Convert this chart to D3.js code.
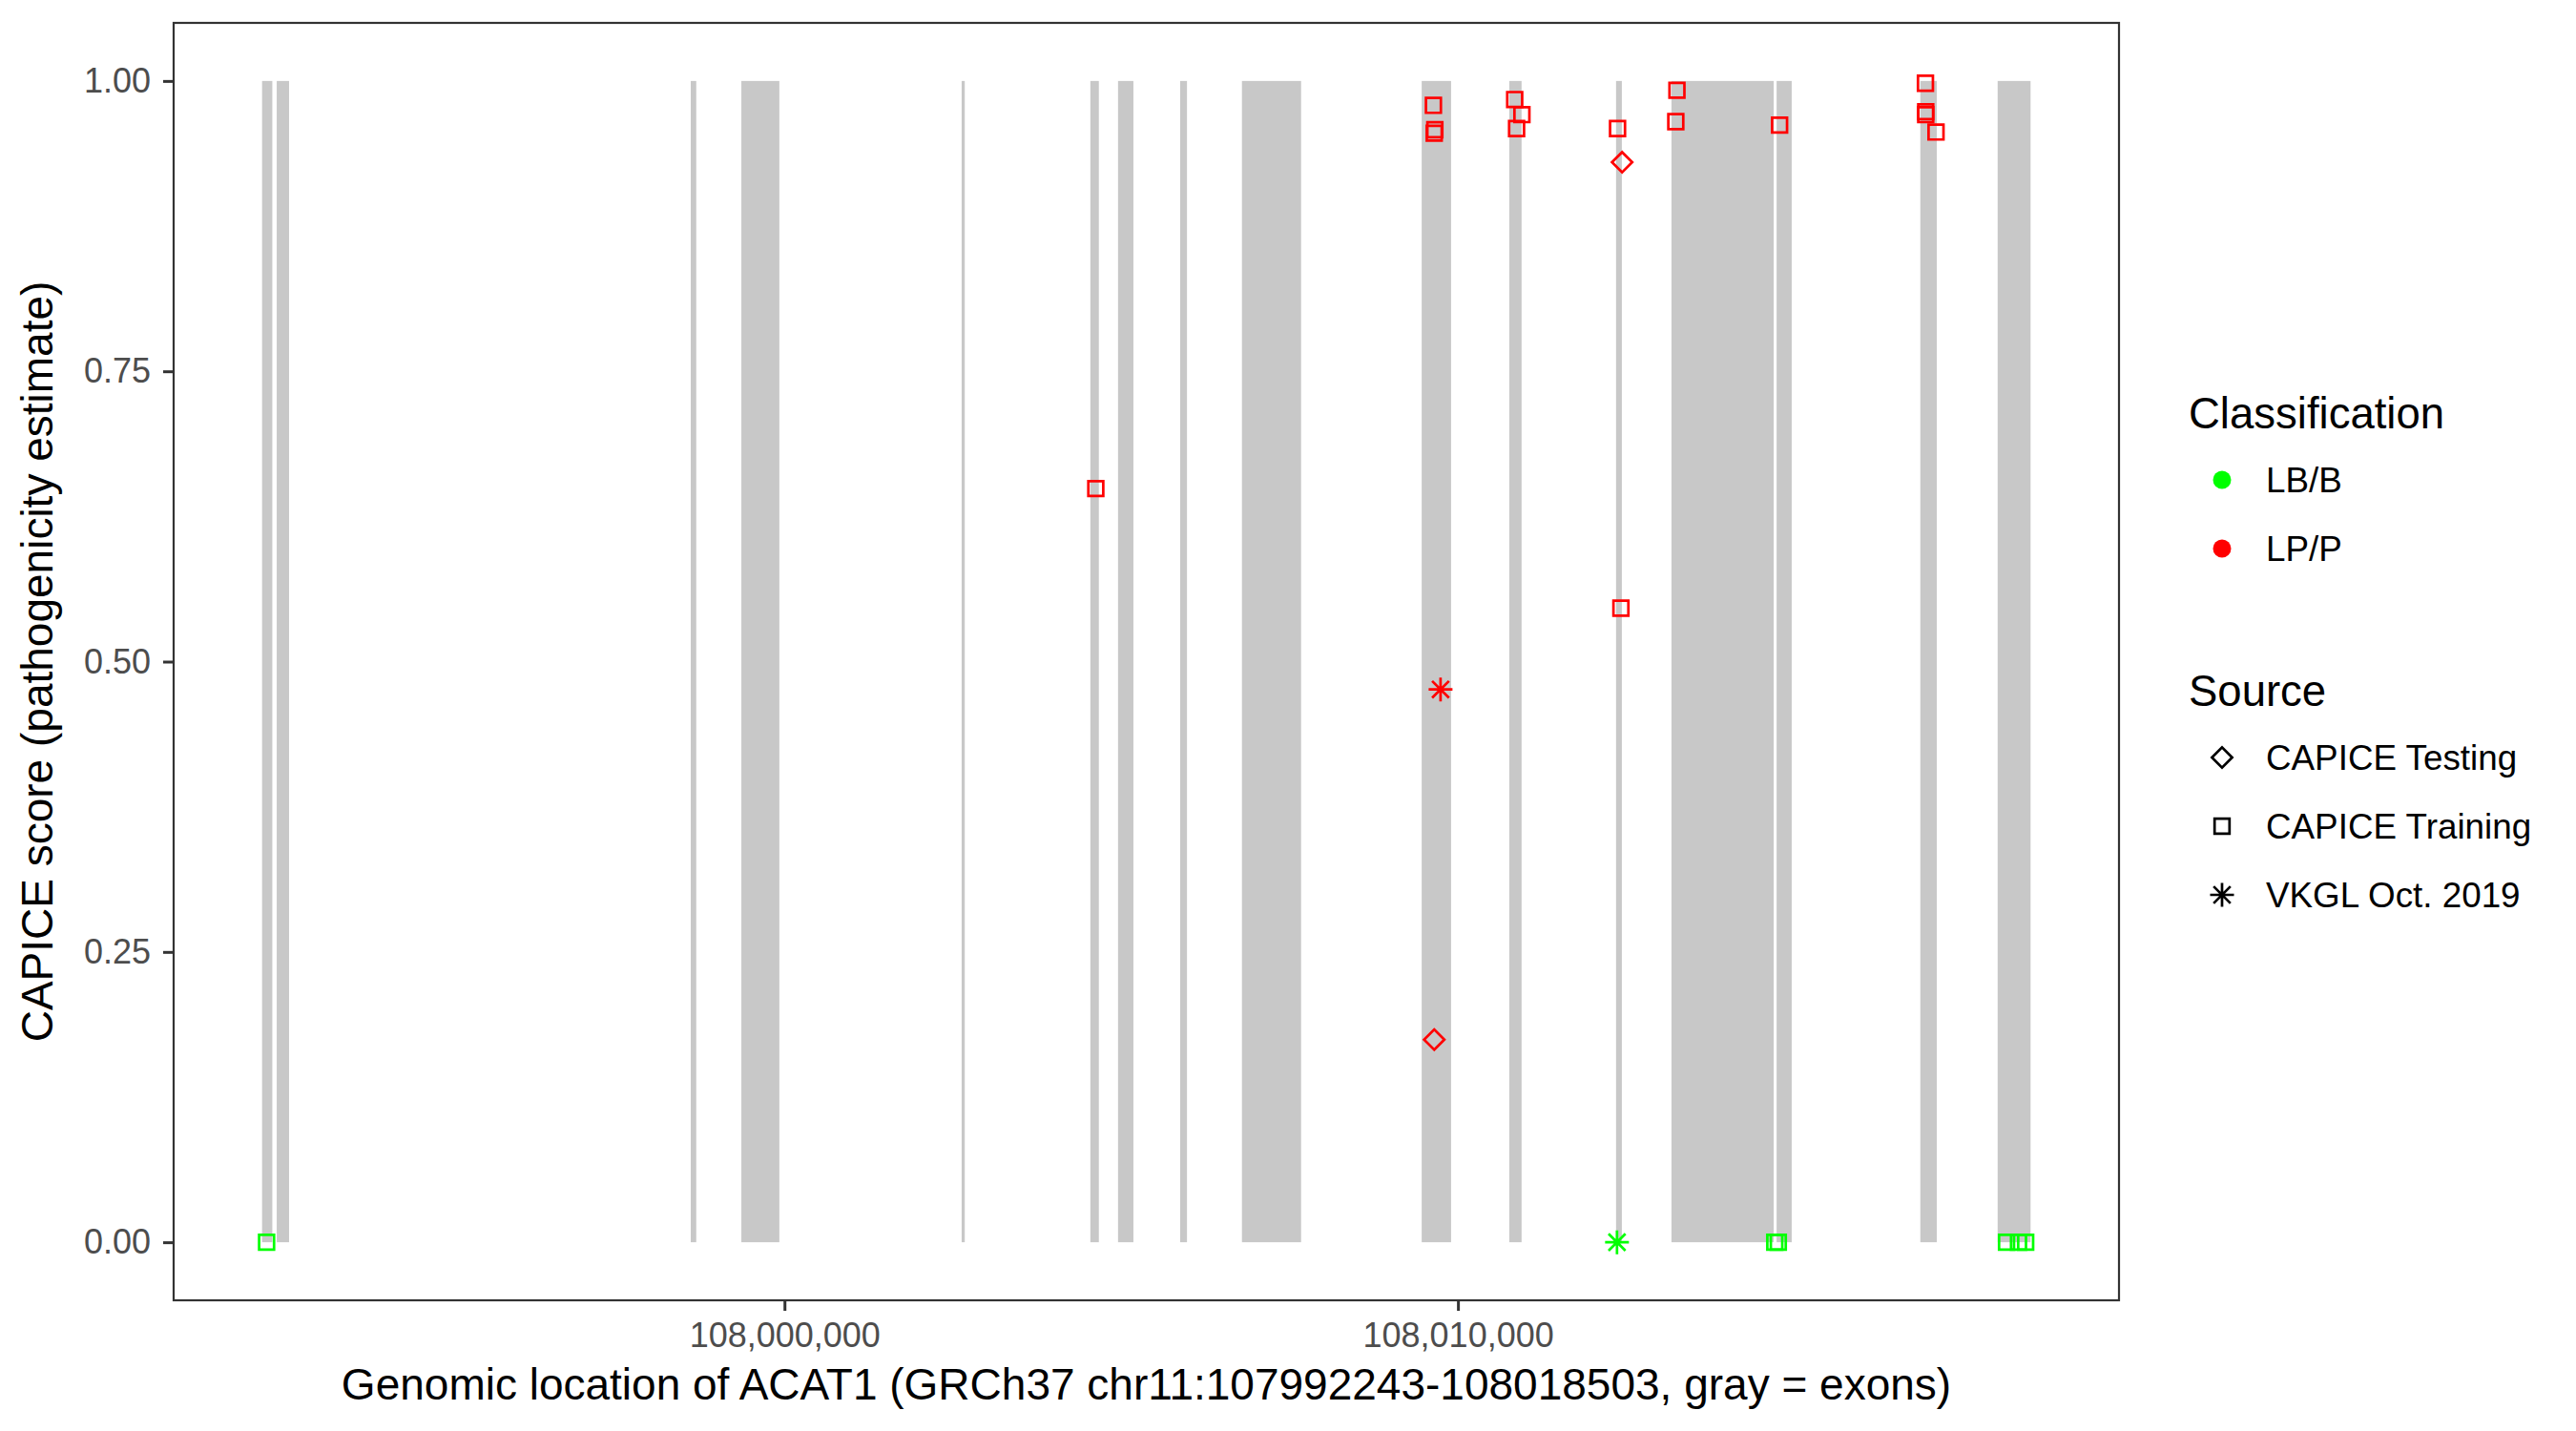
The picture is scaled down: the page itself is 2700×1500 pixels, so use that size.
<!DOCTYPE html>
<meta charset="utf-8">
<style>
body { margin: 0; background: #fff; }
text { font-family: "Liberation Sans", Arial, Helvetica, sans-serif; }
.tick text { font-size: 36px; fill: #4d4d4d; }
.axis_title { font-size: 46px; fill: #000; }
.legend_title { font-size: 45.5px; fill: #000; }
.legend_text { font-size: 36.8px; fill: #000; }
</style>
<svg width="2700" height="1500"></svg>
<script src="https://d3js.org/d3.v7.min.js"></script>
<script>

// gene span (GRCh37 chr11)
var geneStart = 107992243,
    geneEnd = 108018503;

// exons
var exonStarts = [107992243, 107992461, 107998608, 107999360, 108002631, 108004542, 108004953, 108005875,
                  108006793, 108009462, 108010762, 108012348, 108013171, 108014732, 108016866, 108018014];
var exonEnds   = [107992395, 107992644, 107998690, 107999924, 108002677, 108004668, 108005181, 108005977,
                  108007671, 108009898, 108010945, 108012434, 108014689, 108014956, 108017110, 108018503];

// variants
var variantPos = [
  108004623, 108009636, 108009657, 108009648, 108010843, 108010950, 108010871, 108012370,
  108012420, 108013252, 108013235, 108014776, 108016942, 108016946, 108016946, 108017099,
  108012438, 108009648,
  108009742,
  108012362,
  107992310, 108014705, 108014757, 108018146, 108018324, 108018430
];
var variantScore = [
  0.649, 0.979, 0.958, 0.955, 0.984, 0.971, 0.959, 0.959,
  0.546, 0.992, 0.965, 0.962, 0.998, 0.9735, 0.971, 0.956,
  0.930, 0.1745,
  0.476,
  0,
  0, 0, 0, 0, 0, 0
];
var variantClass = [
  "LP/P", "LP/P", "LP/P", "LP/P", "LP/P", "LP/P", "LP/P", "LP/P",
  "LP/P", "LP/P", "LP/P", "LP/P", "LP/P", "LP/P", "LP/P", "LP/P",
  "LP/P", "LP/P",
  "LP/P",
  "LB/B",
  "LB/B", "LB/B", "LB/B", "LB/B", "LB/B", "LB/B"
];
var variantSource = [
  "CAPICE Training", "CAPICE Training", "CAPICE Training", "CAPICE Training", "CAPICE Training", "CAPICE Training", "CAPICE Training", "CAPICE Training",
  "CAPICE Training", "CAPICE Training", "CAPICE Training", "CAPICE Training", "CAPICE Training", "CAPICE Training", "CAPICE Training", "CAPICE Training",
  "CAPICE Testing", "CAPICE Testing",
  "VKGL Oct. 2019",
  "VKGL Oct. 2019",
  "CAPICE Training", "CAPICE Training", "CAPICE Training", "CAPICE Training", "CAPICE Training", "CAPICE Training"
];

var classNames = ["LB/B", "LP/P"];
var classColors = ["#00ff00", "#ff0000"];
var sourceNames = ["CAPICE Testing", "CAPICE Training", "VKGL Oct. 2019"];

var xTicks = [108000000, 108010000];
var yTicks = [0, 0.25, 0.5, 0.75, 1];

var svg = d3.select("svg"),
    panel = {left: 182, top: 24, right: 2221, bottom: 1363};

var pad = (geneEnd - geneStart) * 0.05;
var x = d3.scaleLinear()
    .domain([geneStart - pad, geneEnd + pad])
    .range([panel.left, panel.right]);

var y = d3.scaleLinear()
    .domain([-0.05, 1.05])
    .range([panel.bottom, panel.top]);

var color = d3.scaleOrdinal().domain(classNames).range(classColors);

// ggplot-like asterisk (shape 8): + and x
var asterisk = {
  draw: function(context, size) {
    var r = Math.sqrt(size) / 2, d = r * Math.SQRT1_2;
    context.moveTo(-r, 0); context.lineTo(r, 0);
    context.moveTo(0, -r); context.lineTo(0, r);
    context.moveTo(-d, -d); context.lineTo(d, d);
    context.moveTo(-d, d); context.lineTo(d, -d);
  }
};

function symbolPath(source) {
  if (source == "CAPICE Training") return d3.symbol().type(d3.symbolSquare).size(245)();
  if (source == "CAPICE Testing") return d3.symbol().type(d3.symbolSquare).size(225)();
  return d3.symbol().type(asterisk).size(625)();
}
function symbolRotate(source) {
  return source == "CAPICE Testing" ? " rotate(45)" : "";
}

// exons
svg.append("g")
  .selectAll("rect")
  .data(exonStarts)
  .enter().append("rect")
    .attr("x", function(d) { return x(d); })
    .attr("width", function(d, i) { return Math.max(1, x(exonEnds[i]) - x(d)); })
    .attr("y", y(1))
    .attr("height", y(0) - y(1))
    .attr("fill", "#c8c8c8");

// variants
var variants = variantPos.map(function(p, i) {
  return {pos: p, score: variantScore[i], cls: variantClass[i], source: variantSource[i]};
});

svg.append("g")
  .selectAll("path")
  .data(variants)
  .enter().append("path")
    .attr("transform", function(d) { return "translate(" + x(d.pos) + "," + y(d.score) + ")" + symbolRotate(d.source); })
    .attr("d", function(d) { return symbolPath(d.source); })
    .attr("fill", "none")
    .attr("stroke", function(d) { return color(d.cls); })
    .attr("stroke-width", 2.7);

// panel border
svg.append("rect")
    .attr("x", panel.left)
    .attr("y", panel.top)
    .attr("width", panel.right - panel.left)
    .attr("height", panel.bottom - panel.top)
    .attr("fill", "none")
    .attr("stroke", "#333333")
    .attr("stroke-width", 2.2);

// axes
var xAxis = svg.append("g")
    .attr("transform", "translate(0," + panel.bottom + ")")
    .call(d3.axisBottom(x).tickValues(xTicks).tickFormat(d3.format(",")).tickSize(11).tickPadding(12));
var yAxis = svg.append("g")
    .attr("transform", "translate(" + panel.left + ",0)")
    .call(d3.axisLeft(y).tickValues(yTicks).tickFormat(d3.format(".2f")).tickSize(11).tickPadding(13));

[xAxis, yAxis].forEach(function(a) {
  a.select(".domain").remove();
  a.selectAll(".tick line").attr("stroke", "#333333").attr("stroke-width", 3);
  a.selectAll(".tick text").attr("font-family", null).attr("font-size", null);
});

svg.append("text")
    .attr("class", "axis_title")
    .attr("x", (panel.left + panel.right) / 2)
    .attr("y", 1467)
    .attr("text-anchor", "middle")
    .text("Genomic location of ACAT1 (GRCh37 chr11:107992243-108018503, gray = exons)");

svg.append("text")
    .attr("class", "axis_title")
    .attr("transform", "translate(55," + (panel.top + panel.bottom) / 2 + ") rotate(-90)")
    .attr("text-anchor", "middle")
    .text("CAPICE score (pathogenicity estimate)");

// legends
var legendX = 2294, keyX = 2329, labelX = 2375;

svg.append("text")
    .attr("class", "legend_title")
    .attr("x", legendX)
    .attr("y", 449)
    .text("Classification");

classNames.forEach(function(name, i) {
  var cy = 503 + i * 72;
  svg.append("circle")
      .attr("cx", keyX)
      .attr("cy", cy)
      .attr("r", 9.5)
      .attr("fill", color(name));
  svg.append("text")
      .attr("class", "legend_text")
      .attr("x", labelX)
      .attr("y", cy + 13)
      .text(name);
});

svg.append("text")
    .attr("class", "legend_title")
    .attr("x", legendX)
    .attr("y", 740)
    .text("Source");

sourceNames.forEach(function(name, i) {
  var cy = 794 + i * 72;
  svg.append("path")
      .attr("transform", "translate(" + keyX + "," + cy + ")" + symbolRotate(name))
      .attr("d", symbolPath(name))
      .attr("fill", "none")
      .attr("stroke", "#000")
      .attr("stroke-width", 2.7);
  svg.append("text")
      .attr("class", "legend_text")
      .attr("x", labelX)
      .attr("y", cy + 13)
      .text(name);
});

</script>
